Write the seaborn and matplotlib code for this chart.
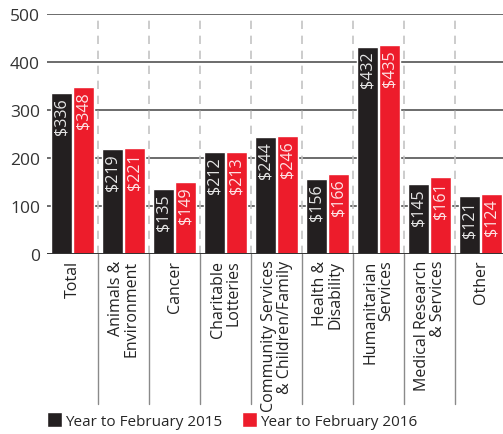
import numpy as np
import pandas as pd
import seaborn as sns
import matplotlib.pyplot as plt
from matplotlib.patches import Patch

sns.set_style("white")
plt.rcParams['font.family'] = ['Open Sans', 'DejaVu Sans']

categories = ['Total', 'Animals &\nEnvironment', 'Cancer', 'Charitable\nLotteries',
              'Community Services\n& Children/Family', 'Health &\nDisability',
              'Humanitarian\nServices', 'Medical Research\n& Services', 'Other']
series = ['Year to February 2015', 'Year to February 2016']
values_2015 = [336, 219, 135, 212, 244, 156, 432, 145, 121]
values_2016 = [348, 221, 149, 213, 246, 166, 435, 161, 124]
yticks = [0, 100, 200, 300, 400, 500]

black = '#231f20'
red = '#ed1c2b'

df = pd.DataFrame({
    'category': categories * 2,
    'value': values_2015 + values_2016,
    'year': [series[0]] * len(categories) + [series[1]] * len(categories),
})

fig = plt.figure(figsize=(5.03, 4.35), dpi=100)
ax = fig.add_axes([47 / 503, 180 / 435, 456 / 503, 240 / 435])

# horizontal grid behind bars
for v in yticks[1:]:
    ax.axhline(v, color='#444444', lw=1.1, zorder=0)

sns.barplot(data=df, x='category', y='value', hue='year', palette=[black, red],
            width=0.88, gap=0.08, legend=False, ax=ax, zorder=2, saturation=1)

# group separators: dashed above zero, solid below
for i in range(len(categories)):
    xs = i + 0.5
    ax.axvline(xs, color='#c4c4c4', lw=1.2, ls=(0, (5, 4)), zorder=1)
    ax.plot([xs, xs], [0, -0.625], transform=ax.get_xaxis_transform(),
            color='#8a8a8a', lw=1.0, clip_on=False, zorder=1)

ax.axhline(0, color='#333333', lw=1.4, zorder=3)

# value labels inside bars
label_cols = ['#e6e6e6', '#fde3e5']
for cont, vals, col in zip(ax.containers, [values_2015, values_2016], label_cols):
    for p, v in zip(cont.patches, vals):
        ax.annotate(f'${v}', (p.get_x() + p.get_width() / 2, p.get_height()),
                    xytext=(0, -3), textcoords='offset points', rotation=90,
                    ha='center', va='top', color=col, fontsize=11.5, zorder=4)

ax.set_xlim(-0.5, 8.44)
ax.set_ylim(0, 500)
ax.set_yticks(yticks)
ax.set_yticklabels([str(t) for t in yticks], fontsize=12.5, color='#333333')
ax.set_xticks(range(len(categories)))
ax.set_xticklabels(categories, rotation=90, fontsize=11.5, color='#222222',
                   va='top', ha='center', multialignment='right',
                   linespacing=1.0)
ax.tick_params(axis='y', length=0, pad=5)
ax.tick_params(axis='x', length=0, pad=4)
ax.set_xlabel('')
ax.set_ylabel('')
for s in ax.spines.values():
    s.set_visible(False)

handles = [Patch(facecolor=black), Patch(facecolor=red)]
fig.legend(handles, series, loc='lower left', bbox_to_anchor=(36 / 503, -0.012),
           ncol=2, frameon=False, fontsize=11, handlelength=1.0, handleheight=1.1,
           handletextpad=0.2, columnspacing=1.3, borderaxespad=0.3)

fig.savefig('out.png', dpi=100)
